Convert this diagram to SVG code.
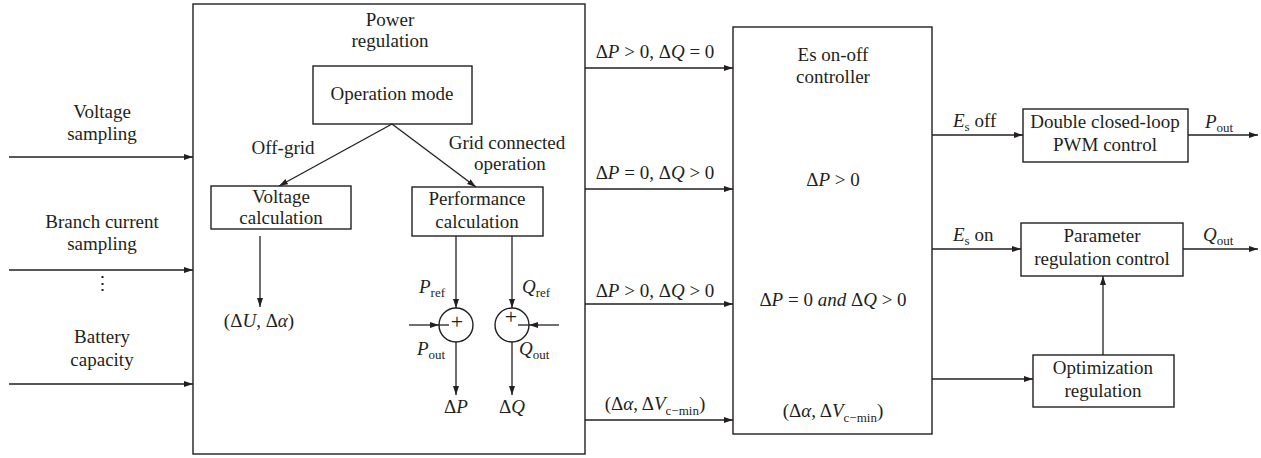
<svg xmlns="http://www.w3.org/2000/svg" width="1261" height="458" viewBox="0 0 1261 458">
<style>
text{font-family:'Liberation Serif','Times New Roman',Times,'DejaVu Serif',serif;font-size:19px;fill:#231f20}
.c{text-anchor:middle}
.i{font-style:italic}
.s{font-size:13px}
.pl{font-size:22px}
.box{fill:none;stroke:#231f20;stroke-width:1.4}
.ln{fill:none;stroke:#231f20;stroke-width:1.3}
.ar{marker-end:url(#ah)}
</style>
<defs>
<marker id="ah" markerUnits="userSpaceOnUse" markerWidth="9" markerHeight="7" refX="9" refY="3" orient="auto">
<path d="M0,0 L9,3 L0,6 z" fill="#231f20"/>
</marker>
</defs>
<rect width="1261" height="458" fill="#fff"/>

<g id="inputs-labels">
<text class="c" x="102" y="118">Voltage</text>
<text class="c" x="102" y="140">sampling</text>
<text class="c" x="102" y="228">Branch current</text>
<text class="c" x="102" y="250">sampling</text>
<text class="c" x="102" y="290">⋮</text>
<text class="c" x="102" y="343">Battery</text>
<text class="c" x="102" y="366">capacity</text>
</g>

<g id="power-regulation">
<rect class="box" x="193" y="4" width="392" height="450"/>
<text class="c" x="390" y="26">Power</text>
<text class="c" x="390" y="47">regulation</text>
</g>

<g id="operation-mode">
<rect class="box" x="313" y="66" width="159" height="58"/>
<text class="c" x="392" y="100">Operation mode</text>
</g>

<g id="voltage-calculation">
<rect class="box" x="211" y="186" width="140" height="43"/>
<text class="c" x="281" y="203">Voltage</text>
<text class="c" x="281" y="224">calculation</text>
</g>

<g id="performance-calculation">
<rect class="box" x="412" y="187" width="131" height="49"/>
<text class="c" x="477" y="205">Performance</text>
<text class="c" x="477" y="228">calculation</text>
</g>

<g id="sum-p">
<circle class="box" cx="456" cy="325" r="17"/>
<text class="c pl" x="457" y="329">+</text>
</g>
<g id="sum-q">
<circle class="box" cx="512" cy="325" r="17"/>
<text class="c pl" x="511" y="324">+</text>
</g>

<g id="es-controller">
<rect class="box" x="733" y="27" width="199" height="407"/>
<text class="c" x="833" y="61">Es on-off</text>
<text class="c" x="833" y="83">controller</text>
<text class="c" x="833" y="186">Δ<tspan class="i">P</tspan> &gt; 0</text>
<text class="c" x="833" y="306">Δ<tspan class="i">P</tspan> = 0 <tspan class="i">and</tspan> Δ<tspan class="i">Q</tspan> &gt; 0</text>
<text class="c" x="833" y="417">(Δ<tspan class="i">α</tspan>, Δ<tspan class="i">V</tspan><tspan class="s" dy="5">c−min</tspan><tspan dy="-5">)</tspan></text>
</g>

<g id="double-closed-loop">
<rect class="box" x="1023" y="109" width="165" height="53"/>
<text class="c" x="1105" y="128">Double closed-loop</text>
<text class="c" x="1105" y="151">PWM control</text>
</g>

<g id="parameter-regulation">
<rect class="box" x="1021" y="223" width="162" height="53"/>
<text class="c" x="1102" y="242">Parameter</text>
<text class="c" x="1102" y="265">regulation control</text>
</g>

<g id="optimization-regulation">
<rect class="box" x="1033" y="355" width="141" height="52"/>
<text class="c" x="1103" y="374">Optimization</text>
<text class="c" x="1103" y="397">regulation</text>
</g>

<g id="connectors">
<line class="ln ar" x1="9" y1="157" x2="193" y2="157"/>
<line class="ln ar" x1="9" y1="270" x2="193" y2="270"/>
<line class="ln ar" x1="9" y1="384" x2="193" y2="384"/>

<line class="ln ar" x1="392" y1="124" x2="279" y2="186"/>
<line class="ln ar" x1="392" y1="124" x2="476" y2="187"/>
<line class="ln ar" x1="260" y1="236" x2="260" y2="307"/>

<line class="ln ar" x1="456" y1="236" x2="456" y2="308"/>
<line class="ln ar" x1="512" y1="236" x2="512" y2="308"/>
<line class="ln ar" x1="409" y1="325" x2="439" y2="325"/>
<line class="ln" x1="439" y1="325" x2="449" y2="325"/>
<line class="ln ar" x1="559" y1="325" x2="529" y2="325"/>
<line class="ln" x1="529" y1="325" x2="518" y2="325"/>
<line class="ln ar" x1="456" y1="342" x2="456" y2="395"/>
<line class="ln ar" x1="512" y1="342" x2="512" y2="395"/>

<line class="ln ar" x1="585" y1="68" x2="733" y2="68"/>
<line class="ln ar" x1="585" y1="189" x2="733" y2="189"/>
<line class="ln ar" x1="585" y1="304" x2="733" y2="304"/>
<line class="ln ar" x1="585" y1="420" x2="733" y2="420"/>

<line class="ln ar" x1="932" y1="135" x2="1023" y2="135"/>
<line class="ln ar" x1="932" y1="249" x2="1021" y2="249"/>
<line class="ln ar" x1="932" y1="379" x2="1033" y2="379"/>
<line class="ln ar" x1="1188" y1="135" x2="1258" y2="135"/>
<line class="ln ar" x1="1183" y1="249" x2="1258" y2="249"/>
<line class="ln ar" x1="1103" y1="355" x2="1103" y2="276"/>
</g>

<g id="connector-labels">
<text class="c" x="283" y="154">Off-grid</text>
<text class="c" x="507" y="149">Grid connected</text>
<text class="c" x="510" y="170">operation</text>
<text class="c" x="259" y="327">(Δ<tspan class="i">U</tspan>, Δ<tspan class="i">α</tspan>)</text>
<text x="419" y="293"><tspan class="i">P</tspan><tspan class="s" dy="4">ref</tspan></text>
<text x="522" y="293"><tspan class="i">Q</tspan><tspan class="s" dy="4">ref</tspan></text>
<text x="417" y="355"><tspan class="i">P</tspan><tspan class="s" dy="4">out</tspan></text>
<text x="519" y="355"><tspan class="i">Q</tspan><tspan class="s" dy="4">out</tspan></text>
<text class="c" x="456" y="413">Δ<tspan class="i">P</tspan></text>
<text class="c" x="512" y="413">Δ<tspan class="i">Q</tspan></text>

<text class="c" x="655" y="58">Δ<tspan class="i">P</tspan> &gt; 0, Δ<tspan class="i">Q</tspan> = 0</text>
<text class="c" x="655" y="179">Δ<tspan class="i">P</tspan> = 0, Δ<tspan class="i">Q</tspan> &gt; 0</text>
<text class="c" x="655" y="297">Δ<tspan class="i">P</tspan> &gt; 0, Δ<tspan class="i">Q</tspan> &gt; 0</text>
<text class="c" x="655" y="410">(Δ<tspan class="i">α</tspan>, Δ<tspan class="i">V</tspan><tspan class="s" dy="5">c−min</tspan><tspan dy="-5">)</tspan></text>

<text x="953" y="127"><tspan class="i">E</tspan><tspan class="s" dy="4">s</tspan><tspan dy="-4"> off</tspan></text>
<text x="953" y="241"><tspan class="i">E</tspan><tspan class="s" dy="4">s</tspan><tspan dy="-4"> on</tspan></text>
<text x="1205" y="128"><tspan class="i">P</tspan><tspan class="s" dy="4">out</tspan></text>
<text x="1203" y="241"><tspan class="i">Q</tspan><tspan class="s" dy="4">out</tspan></text>
</g>
</svg>
